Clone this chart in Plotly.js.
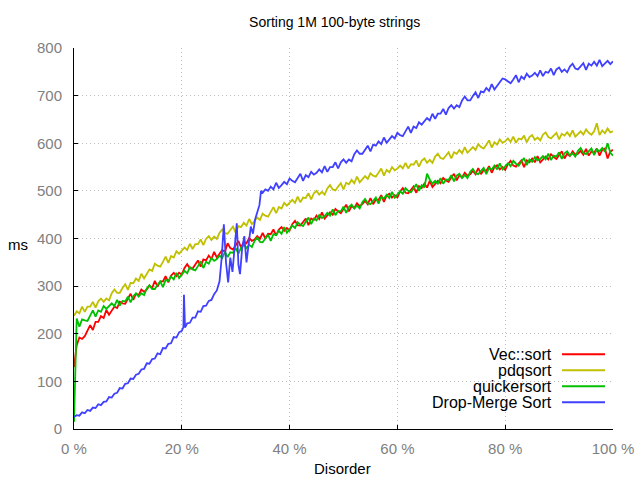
<!DOCTYPE html>
<html>
<head>
<meta charset="utf-8">
<script src="https://cdn.plot.ly/plotly-3.0.1.min.js"></script>
<style>html,body{margin:0;padding:0;background:#fff;}#chart{width:640px;height:480px;}</style>
</head>
<body>
<div id="chart"></div>
<script>
// Disorder (%) sample points shared by the first three series
const disorderPct = [0,0.5,1,1.5,2,2.5,3,3.5,4,4.5,5,5.5,6,6.5,7,7.5,8,8.5,9,9.5,10,10.5,11,11.5,12,12.5,13,13.5,14,14.5,15,15.5,16,16.5,17,17.5,18,18.5,19,19.5,20,20.5,21,21.5,22,22.5,23,23.5,24,24.5,25,25.5,26,26.5,27,27.5,28,28.5,29,29.5,30,30.5,31,31.5,32,32.5,33,33.5,34,34.5,35,35.5,36,36.5,37,37.5,38,38.5,39,39.5,40,40.5,41,41.5,42,42.5,43,43.5,44,44.5,45,45.5,46,46.5,47,47.5,48,48.5,49,49.5,50,50.5,51,51.5,52,52.5,53,53.5,54,54.5,55,55.5,56,56.5,57,57.5,58,58.5,59,59.5,60,60.5,61,61.5,62,62.5,63,63.5,64,64.5,65,65.5,66,66.5,67,67.5,68,68.5,69,69.5,70,70.5,71,71.5,72,72.5,73,73.5,74,74.5,75,75.5,76,76.5,77,77.5,78,78.5,79,79.5,80,80.5,81,81.5,82,82.5,83,83.5,84,84.5,85,85.5,86,86.5,87,87.5,88,88.5,89,89.5,90,90.5,91,91.5,92,92.5,93,93.5,94,94.5,95,95.5,96,96.5,97,97.5,98,98.5,99,99.5,100];

const vecSort = [130,176,192,189,195,207,218,208,225,225,237,233,250,240,249,257,254,267,264,263,274,284,271,284,281,293,288,293,301,296,311,299,310,310,321,308,322,328,321,328,324,338,346,337,337,346,354,341,356,354,364,357,372,360,368,376,372,390,380,377,386,395,381,393,390,401,395,398,405,399,412,400,410,409,419,406,419,424,416,422,417,430,437,428,427,435,442,428,442,439,448,441,455,442,449,455,450,462,457,453,462,471,457,468,464,474,468,472,479,472,485,472,482,481,491,477,490,494,486,491,486,499,506,496,495,502,509,496,510,506,515,507,521,508,515,521,516,527,522,519,528,536,522,533,528,538,532,535,542,535,548,535,544,542,552,538,550,554,545,550,544,556,563,553,551,558,564,550,564,560,568,560,573,560,566,572,566,577,571,567,575,583,568,578,573,583,576,578,584,576,588,574,583,580,589,574,586,589,568,583,586];

const pdqsort = [238,247,243,257,246,257,257,267,255,268,274,267,274,270,285,293,286,286,296,304,292,307,306,316,311,326,316,325,335,332,347,343,341,351,362,349,363,360,373,368,374,381,376,389,378,388,388,398,386,399,405,397,404,399,412,419,411,410,418,425,412,426,424,433,427,441,430,437,444,439,452,448,446,456,466,453,466,463,475,469,474,481,475,488,476,486,485,495,482,495,500,492,498,492,505,512,503,501,509,516,503,517,514,523,516,530,518,524,531,525,537,532,530,538,547,532,544,539,550,543,547,553,547,559,547,556,555,564,551,563,568,559,565,559,572,578,569,567,575,581,568,581,578,586,579,592,580,586,592,586,598,592,589,597,606,591,602,597,608,601,604,610,603,614,601,610,608,616,602,613,617,607,612,606,618,623,613,610,617,622,608,620,616,623,615,627,614,619,625,618,629,622,618,625,642,617,627,621,631,623,625];

const quickersort = [15,232,215,230,228,227,238,249,236,249,246,258,252,257,264,258,271,259,269,268,278,266,279,285,278,285,281,295,302,294,294,303,310,298,313,311,320,314,328,317,324,332,327,340,335,333,342,352,338,351,347,359,353,357,364,359,372,361,371,370,380,368,381,387,380,387,382,395,402,393,392,401,408,395,409,407,416,410,424,412,419,427,422,434,429,426,435,444,430,442,438,449,443,447,454,448,461,449,458,457,467,454,466,471,463,469,463,476,483,474,472,480,486,473,487,484,492,485,498,486,492,499,494,506,500,497,505,514,500,512,507,536,524,515,521,515,527,515,524,523,533,520,532,536,527,533,527,540,546,537,535,542,548,535,548,545,553,545,558,545,551,558,552,563,557,553,561,569,554,566,561,571,564,567,573,566,578,565,574,572,581,567,579,583,574,579,572,584,590,580,577,584,589,575,587,583,590,582,600,580,574];

// Drop-Merge Sort has its own sample points (denser in the unstable 26-35 % region)
const dropMergePct = [0,0.5,1,1.5,2,2.5,3,3.5,4,4.5,5,5.5,6,6.5,7,7.5,8,8.5,9,9.5,10,10.5,11,11.5,12,12.5,13,13.5,14,14.5,15,15.5,16,16.5,17,17.5,18,18.5,19,19.5,20,20.3,20.4,20.6,21,21.5,22,22.5,23,23.5,24,24.5,25,25.5,26,26.5,27,27.4,27.8,28.2,28.6,29,29.4,29.8,30.2,30.5,30.8,31.2,31.6,32,32.4,32.8,33.2,33.6,34,34.4,34.7,35,35.5,36,36.5,37,37.5,38,38.5,39,39.5,40,40.5,41,41.5,42,42.5,43,43.5,44,44.5,45,45.5,46,46.5,47,47.5,48,48.5,49,49.5,50,50.5,51,51.5,52,52.5,53,53.5,54,54.5,55,55.5,56,56.5,57,57.5,58,58.5,59,59.5,60,60.5,61,61.5,62,62.5,63,63.5,64,64.5,65,65.5,66,66.5,67,67.5,68,68.5,69,69.5,70,70.5,71,71.5,72,72.5,73,73.5,74,74.5,75,75.5,76,76.5,77,77.5,78,78.5,79,79.5,80,80.5,81,81.5,82,82.5,83,83.5,84,84.5,85,85.5,86,86.5,87,87.5,88,88.5,89,89.5,90,90.5,91,91.5,92,92.5,93,93.5,94,94.5,95,95.5,96,96.5,97,97.5,98,98.5,99,99.5,100];
const dropMerge = [25,29,28,35,33,40,38,45,44,52,50,57,58,67,66,74,76,86,85,95,96,106,105,114,116,125,126,138,137,147,148,159,157,170,169,179,180,193,192,203,206,214,282,213,222,223,234,234,247,246,258,259,269,271,283,291,310,360,430,350,308,360,330,390,432,345,325,380,405,350,395,425,410,440,455,470,500,496,503,500,509,503,517,506,512,519,514,526,521,518,527,536,521,533,529,540,534,538,545,539,552,540,550,550,560,547,560,566,559,566,562,577,585,578,578,587,595,583,597,595,604,598,612,601,608,615,610,622,617,615,625,635,622,635,632,644,639,645,653,648,662,651,662,662,672,660,674,680,673,680,676,690,698,690,690,699,707,695,709,707,716,710,724,713,720,727,736,734,729,726,734,743,728,740,735,746,739,742,748,741,753,741,750,748,757,743,755,759,750,755,749,761,767,757,755,762,768,754,767,763,771,763,775,762,767,773,766,772];

const seriesNames = ['Vec::sort','pdqsort','quickersort','Drop-Merge Sort'];
const seriesColors = ['#ff0000','#c0c000','#00c000','#4040ff'];
const xTickVals = [0,20,40,60,80,100];
const xTickText = ['0 %','20 %','40 %','60 %','80 %','100 %'];
const yTickVals = [0,100,200,300,400,500,600,700,800];

const FONT = 'Liberation Sans, Arial, Helvetica, sans-serif';
const ys = [vecSort, pdqsort, quickersort, dropMerge];
const xs = [disorderPct, disorderPct, disorderPct, dropMergePct];

const traces = ys.map((y,i)=>({
  x: xs[i], y: y, type:'scatter', mode:'lines', name: seriesNames[i],
  line:{color: seriesColors[i], width:1.8}
}));

// legend drawn gnuplot-style: text right-aligned, sample line to the right
const legY = [0.196,0.154,0.112,0.070];
const shapes = [];
const annotations = [];
seriesNames.forEach((n,i)=>{
  shapes.push({type:'line', xref:'paper', yref:'paper', x0:0.9054, x1:0.9852, y0:legY[i], y1:legY[i],
    line:{color:seriesColors[i], width:2}});
  annotations.push({text:n, xref:'paper', yref:'paper', x:0.8905, y:legY[i], xanchor:'right', yanchor:'middle',
    showarrow:false, font:{family:FONT, size:16, color:'#000'}});
});
annotations.push({text:'Disorder', xref:'paper', yref:'paper', x:0.499, y:-0.1024, xanchor:'center', yanchor:'middle',
  showarrow:false, font:{family:FONT, size:15, color:'#000'}});
annotations.push({text:'ms', xref:'paper', yref:'paper', x:-0.1039, y:0.483, xanchor:'center', yanchor:'middle',
  showarrow:false, font:{family:FONT, size:15, color:'#000'}});

const layout = {
  width:640, height:480,
  margin:{l:74, r:27, t:48, b:51},
  paper_bgcolor:'#fff', plot_bgcolor:'#fff',
  showlegend:false,
  title:{text:'Sorting 1M 100-byte strings', font:{family:FONT, size:14, color:'#000'},
    xref:'container', x:0.523, xanchor:'center', yref:'container', y:1-22/480, yanchor:'middle'},
  xaxis:{range:[0,100], tickvals:xTickVals, ticktext:xTickText, ticks:'inside', ticklen:4, tickcolor:'#000',
    showline:true, linecolor:'#000', linewidth:1, showgrid:true, gridcolor:'#bdbdbd', griddash:'1px,3px', gridwidth:1,
    zeroline:false, tickfont:{family:FONT, size:15, color:'#808080'}, ticklabelstandoff:6, fixedrange:true},
  yaxis:{range:[0,800], tickvals:yTickVals, ticks:'inside', ticklen:4, tickcolor:'#000',
    showline:true, linecolor:'#000', linewidth:1, showgrid:true, gridcolor:'#bdbdbd', griddash:'1px,3px', gridwidth:1,
    zeroline:false, tickfont:{family:FONT, size:15, color:'#808080'}, ticklabelstandoff:8, fixedrange:true},
  shapes:shapes,
  annotations:annotations
};

Plotly.newPlot('chart', traces, layout, {displayModeBar:false, staticPlot:true});
</script>
</body>
</html>
